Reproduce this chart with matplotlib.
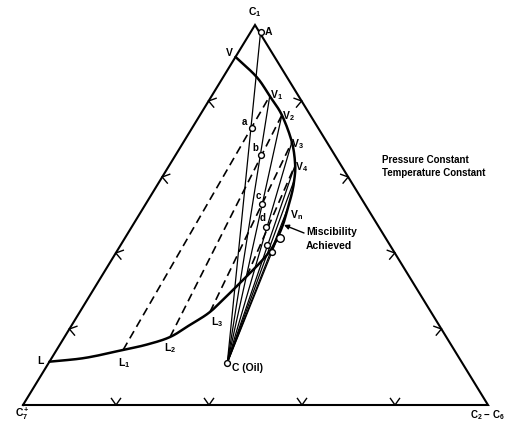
import numpy as np
import matplotlib
matplotlib.use("Agg")
import matplotlib.pyplot as plt

plt.rcParams['font.family'] = ['Liberation Sans', 'DejaVu Sans']
plt.rcParams['mathtext.fontset'] = 'custom'
plt.rcParams['mathtext.rm'] = 'Liberation Sans'
plt.rcParams['mathtext.it'] = 'Liberation Sans:italic'
plt.rcParams['mathtext.bf'] = 'Liberation Sans:bold'

# ---------------- data (compositions: C1 fraction, C2-C6 fraction; C7+ = rest)
dew_c1 = [0.916, 0.863, 0.813, 0.763, 0.692, 0.632, 0.592, 0.558, 0.518, 0.476, 0.437, 0.405]
dew_c26 = [0.000, 0.072, 0.125, 0.176, 0.233, 0.270, 0.288, 0.300, 0.311, 0.322, 0.328, 0.329]
bub_c1 = [0.405, 0.371, 0.339, 0.295, 0.245, 0.211, 0.179, 0.159, 0.145, 0.124, 0.114]
bub_c26 = [0.329, 0.322, 0.312, 0.298, 0.280, 0.254, 0.227, 0.187, 0.143, 0.072, 0.000]

gas_A = (0.982, 0.021)
oil_C = (0.111, 0.384)

vapor_names = ['V', 'V1', 'V2', 'V3', 'V4', 'Vn']
vapor_c1 = [0.916, 0.813, 0.763, 0.692, 0.632, 0.518]
vapor_c26 = [0.000, 0.125, 0.176, 0.233, 0.270, 0.311]

liquid_names = ['L', 'L1', 'L2', 'L3', 'L4']
liquid_c1 = [0.114, 0.145, 0.179, 0.245, 0.339]
liquid_c26 = [0.000, 0.143, 0.227, 0.280, 0.312]

# fan of mixing lines from oil C to these compositions
fan_c1 = [0.982, 0.813, 0.763, 0.692, 0.632, 0.592, 0.518, 0.476]
fan_c26 = [0.021, 0.125, 0.176, 0.233, 0.270, 0.288, 0.311, 0.322]

# dashed equilibrium tie lines: liquid index -> vapor index
tie_pairs = [(1, 1), (2, 2), (3, 3), (4, 4)]

mix_names = ['a', 'b', 'c', 'd', '', '', '']
mix_c1 = [0.729, 0.658, 0.529, 0.468, 0.421, 0.403, 0.439]
mix_c26 = [0.128, 0.184, 0.250, 0.289, 0.314, 0.334, 0.333]

# ---------------- layout
TOP = (255.0, 25.0)
LEFT = (23.0, 405.0)
RIGHT = (488.0, 405.0)


def to_xy(c1, c26):
    c1 = np.asarray(c1, float)
    c26 = np.asarray(c26, float)
    c7 = 1.0 - c1 - c26
    x = c1 * TOP[0] + c7 * LEFT[0] + c26 * RIGHT[0]
    y = c1 * TOP[1] + c7 * LEFT[1] + c26 * RIGHT[1]
    return x, y


def smooth(x, y, n=12):
    """Catmull-Rom rendering of a curve through the given points."""
    p = np.column_stack([x, y])
    p = np.vstack([2 * p[0] - p[1], p, 2 * p[-1] - p[-2]])
    out = []
    t = np.linspace(0, 1, n, endpoint=False)[:, None]
    for i in range(1, len(p) - 2):
        p0, p1, p2, p3 = p[i - 1], p[i], p[i + 1], p[i + 2]
        seg = 0.5 * ((2 * p1) + (-p0 + p2) * t + (2 * p0 - 5 * p1 + 4 * p2 - p3) * t ** 2
                     + (-p0 + 3 * p1 - 3 * p2 + p3) * t ** 3)
        out.append(seg)
    out.append(p[-2][None, :])
    out = np.vstack(out)
    return out[:, 0], out[:, 1]


fig = plt.figure(figsize=(5.07, 4.21), dpi=100)
ax = fig.add_axes([0, 0, 1, 1])
ax.set_xlim(0, 507)
ax.set_ylim(421, 0)
ax.axis('off')

# triangle
tri = np.array([LEFT, TOP, RIGHT, LEFT])
ax.plot(tri[:, 0], tri[:, 1], color='black', lw=1.5, solid_joinstyle='miter', zorder=3)


def chevron(p, direction, half_angle=35, length=8):
    d = np.array(direction, float)
    d /= np.linalg.norm(d)
    for s in (-1, 1):
        a = np.deg2rad(s * half_angle)
        r = np.array([d[0] * np.cos(a) - d[1] * np.sin(a), d[0] * np.sin(a) + d[1] * np.cos(a)])
        q = np.array(p) + r * length
        ax.plot([p[0], q[0]], [p[1], q[1]], color='black', lw=1.0, zorder=3)


for f in (0.2, 0.4, 0.6, 0.8):
    x, y = to_xy(f, 0.0)
    chevron((x, y), (np.cos(np.deg2rad(15)), np.sin(np.deg2rad(15))))
    x, y = to_xy(f, 1 - f)
    chevron((x, y), (-np.cos(np.deg2rad(15)), np.sin(np.deg2rad(15))))
    x, y = to_xy(0.0, f)
    chevron((x, y), (0, -1))

# phase envelope (dew branch from V to plait point, then bubble branch to L)
env_c1 = dew_c1 + bub_c1[1:]
env_c26 = dew_c26 + bub_c26[1:]
ex, ey = to_xy(env_c1, env_c26)
sx, sy = smooth(ex, ey)
ax.plot(sx, sy, color='black', lw=1.8, zorder=4, solid_capstyle='round')

# fan lines from oil
cx, cy = to_xy(*oil_C)
fx, fy = to_xy(fan_c1, fan_c26)
for x, y in zip(fx, fy):
    ax.plot([cx, x], [cy, y], color='black', lw=0.9, zorder=2)

# dashed tie lines
lx, ly = to_xy(liquid_c1, liquid_c26)
vx, vy = to_xy(vapor_c1, vapor_c26)
for li, vi in tie_pairs:
    ax.plot([lx[li], vx[vi]], [ly[li], vy[vi]], color='black', lw=1.2,
            dashes=(5, 3), zorder=2)

# points
mx, my = to_xy(mix_c1, mix_c26)
ax.plot(mx[:6], my[:6], 'o', ms=4.2, mfc='white', mec='black', mew=1.0, zorder=5)
ax.plot(mx[6:], my[6:], 'o', ms=5.5, mfc='white', mec='black', mew=1.0, zorder=5)
ax_, ay_ = to_xy(*gas_A)
ax.plot([ax_], [ay_], 'o', ms=4.2, mfc='white', mec='black', mew=1.0, zorder=5)
ax.plot([cx], [cy], 'o', ms=4.2, mfc='white', mec='black', mew=1.0, zorder=5)

fs = 7.5
ax.text(255, 12, r'$\mathbf{C_1}$', fontsize=fs, ha='center', va='center')
ax.text(22, 414, r'$\mathbf{C_7^+}$', fontsize=fs, ha='center', va='center')
ax.text(487, 415, r'$\mathbf{C_2}$ $\mathbf{-}$ $\mathbf{C_6}$', fontsize=7, ha='center', va='center')

ax.text(ax_ + 4, ay_ + 0, 'A', fontsize=fs, fontweight='bold', ha='left', va='center')
v_off = [(-6, -5), (7, -1), (7, 1), (6, 2), (6, 2), (9, 7)]
for n, x, y, (ox, oy) in zip(vapor_names, vx, vy, v_off):
    txt = r'$\mathbf{%s}$' % n if len(n) == 1 else r'$\mathbf{V_{%s}}$' % n[1:]
    ax.text(x + ox, y + oy, txt, fontsize=fs, ha='center', va='center')
l_off = [(-8, -2), (1, 13), (0, 11), (7, 10)]
for n, x, y, (ox, oy) in zip(liquid_names[:4], lx, ly, l_off):
    txt = r'$\mathbf{%s}$' % n if len(n) == 1 else r'$\mathbf{L_{%s}}$' % n[1:]
    ax.text(x + ox, y + oy, txt, fontsize=fs, ha='center', va='center')
m_off = [(-7, -6), (-6, -7), (-4, -8), (-3, -9)]
for n, x, y, (ox, oy) in zip(mix_names[:4], mx, my, m_off):
    ax.text(x + ox, y + oy, n, fontsize=fs - 0.5, fontweight='bold', ha='center', va='center')

ax.text(cx + 5, cy + 5, 'C (Oil)', fontsize=fs, fontweight='bold', ha='left', va='center')

ax.text(382, 160, 'Pressure Constant', fontsize=7, fontweight='bold', ha='left', va='center')
ax.text(382, 173, 'Temperature Constant', fontsize=7, fontweight='bold', ha='left', va='center')
ax.text(306, 232, 'Miscibility', fontsize=7.5, fontweight='bold', ha='left', va='center')
ax.text(306, 246, 'Achieved', fontsize=7.5, fontweight='bold', ha='left', va='center')
ax.annotate('', xy=(284, 225), xytext=(304, 233),
            arrowprops=dict(arrowstyle='-|>', color='black', lw=1.0,
                            mutation_scale=7, shrinkA=0, shrinkB=0))

fig.savefig('out.png', dpi=100)
